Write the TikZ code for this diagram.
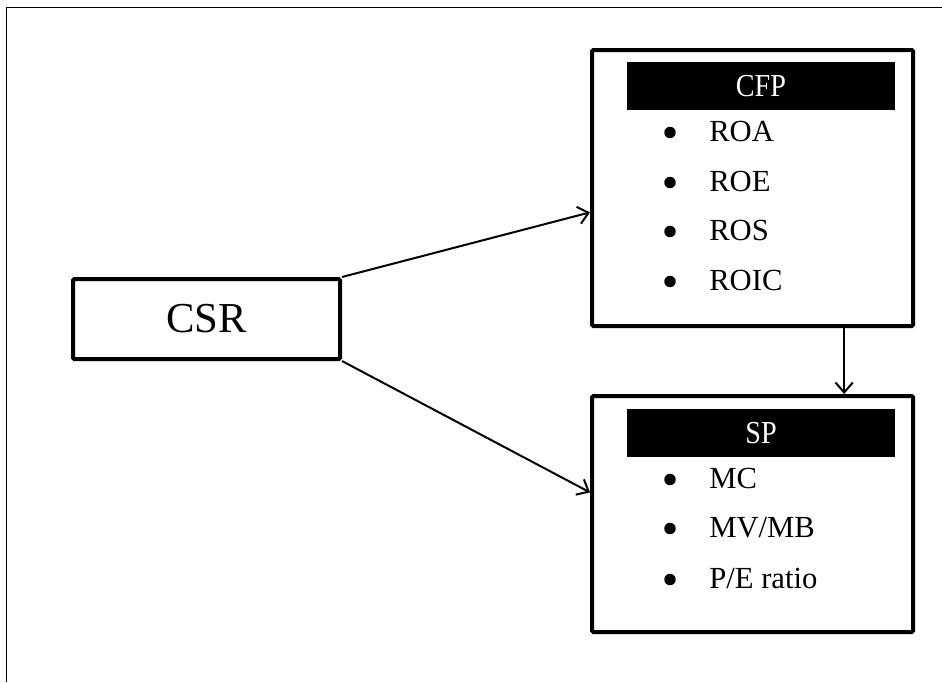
\documentclass[tikz,border=0pt]{standalone}
\usepackage{fontspec}
\setmainfont{Liberation Serif}
\newfontfamily\headfont[FakeStretch=0.88]{Liberation Serif}
\usetikzlibrary{arrows.meta,calc}
\begin{document}
\begin{tikzpicture}[x=0.75pt,y=-0.75pt,
  box/.style={draw,line width=3pt,rounded corners=1pt,inner sep=0pt},
  head/.style={fill=black,text=white,minimum width=201pt,minimum height=36pt,inner sep=0pt,font=\headfont\fontsize{24}{26}\selectfont},
  item/.style={anchor=base west,inner sep=0pt,font=\fontsize{23}{26}\selectfont},
  dot/.style={circle,fill=black,minimum size=8.6pt,inner sep=0pt},
  conn/.style={line width=1.5pt,-{Straight Barb[length=7.5pt,width=13pt,line width=1.5pt]}}]
\useasboundingbox (0,0) rectangle (942,682);
\draw[line width=1.2pt] (6.5,682) -- (6.5,7.5) -- (942,7.5);
% CSR
\node[box,minimum width=200.25pt,minimum height=60pt,font=\fontsize{32}{36}\selectfont] (csr) at (206.5,319) {CSR};
% CFP
\node[box,minimum width=240.75pt,minimum height=207pt] (cfp) at (752.5,188) {};
\node[head] (cfph) at (761,86) {CFP};
\node[dot] (d1) at (670,132.5) {};
\node[item] (i1) at (709,141) {ROA};
\node[dot] (d2) at (670,182.5) {};
\node[item] (i2) at (709,191) {ROE};
\node[dot] (d3) at (670,231.5) {};
\node[item] (i3) at (709,240) {ROS};
\node[dot] (d4) at (670,281.5) {};
\node[item] (i4) at (709,290) {ROIC};
% SP
\node[box,minimum width=240.75pt,minimum height=177pt] (sp) at (752.5,514) {};
\node[head] (sph) at (761,433) {SP};
\node[dot] (e1) at (670,479.5) {};
\node[item] (j1) at (709,488) {MC};
\node[dot] (e2) at (670,528.5) {};
\node[item] (j2) at (709,537) {MV/MB};
\node[dot] (e3) at (670,579.5) {};
\node[item] (j3) at (709,588) {P/E ratio};
% connectors
\coordinate (a1) at ($(cfp.north west)!0.587!(cfp.south west)$);
\coordinate (a2) at ($(sp.north west)!0.41!(sp.south west)$);
\coordinate (v1) at ($(cfp.south west)!0.782!(cfp.south east)$);
\draw[conn] (csr.north east) -- (a1);
\draw[conn] (csr.south east) -- (a2);
\draw[conn] (v1) -- (v1 |- sp.north);
\end{tikzpicture}
\end{document}
